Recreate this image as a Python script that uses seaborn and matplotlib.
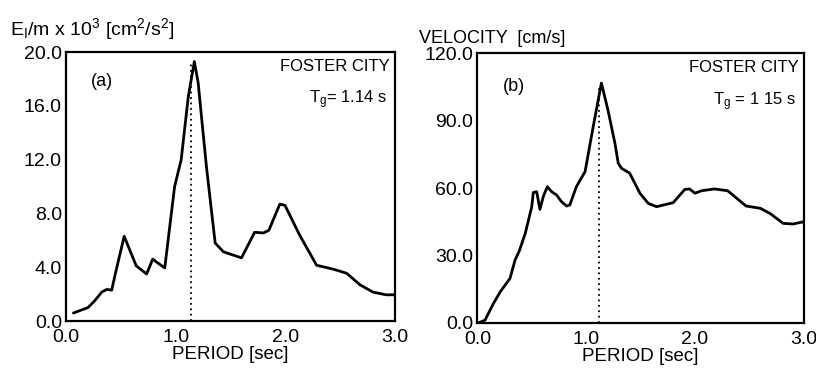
import numpy as np
import pandas as pd
import matplotlib
matplotlib.use("Agg")
import matplotlib.pyplot as plt
import seaborn as sns

# curve (a): input energy spectrum E_I/m x 10^3
periodo_a = [0.067, 0.20, 0.26, 0.325, 0.37, 0.416, 0.45, 0.53, 0.64, 0.735, 0.79, 0.84, 0.90,
             0.99, 1.05, 1.115, 1.17, 1.205, 1.28, 1.36, 1.435, 1.525, 1.60, 1.72, 1.80, 1.85,
             1.95, 1.997, 2.13, 2.285, 2.44, 2.56, 2.68, 2.80, 2.92, 3.0]
energia_a = [0.6, 1.0, 1.5, 2.15, 2.35, 2.3, 3.55, 6.3, 4.1, 3.5, 4.6, 4.3, 3.95,
             10.0, 12.0, 16.7, 19.3, 17.7, 11.5, 5.8, 5.15, 4.9, 4.7, 6.6, 6.55, 6.75,
             8.7, 8.6, 6.4, 4.15, 3.85, 3.55, 2.7, 2.15, 1.95, 1.95]

# curve (b): equivalent velocity spectrum [cm/s]
periodo_b = [0.01, 0.07, 0.147, 0.21, 0.30, 0.346, 0.386, 0.44, 0.50, 0.514, 0.545, 0.575, 0.606,
             0.643, 0.683, 0.728, 0.774, 0.82, 0.85, 0.91, 0.99, 1.065, 1.14, 1.20, 1.264, 1.295,
             1.325, 1.40, 1.494, 1.57, 1.647, 1.80, 1.907, 1.95, 2.0, 2.06, 2.18, 2.30, 2.47,
             2.60, 2.69, 2.81, 2.90, 3.0]
velocidad_b = [0.0, 1.2, 8.6, 13.8, 19.8, 27.9, 32.1, 39.8, 51.7, 58.0, 58.4, 50.5, 56.2,
               60.6, 58.4, 56.9, 53.9, 52.0, 52.5, 60.6, 67.3, 87.4, 106.7, 94.8, 80.0, 71.0,
               68.8, 66.6, 57.7, 53.2, 51.7, 53.5, 59.4, 59.6, 57.7, 58.8, 59.6, 58.8, 52.0,
               51.0, 48.7, 44.3, 44.0, 45.0]

tg_a = 1.14
pico_a = 19.3
tg_b = 1.12
pico_b = 105.0

ticks_x = [0.0, 1.0, 2.0, 3.0]
ticks_a = [0.0, 4.0, 8.0, 12.0, 16.0, 20.0]
ticks_b = [0.0, 30.0, 60.0, 90.0, 120.0]

sns.set_style("white")
plt.rcParams['font.family'] = ['Liberation Sans', 'DejaVu Sans']
plt.rcParams['mathtext.fontset'] = 'custom'
plt.rcParams['mathtext.rm'] = 'Liberation Sans'
plt.rcParams['mathtext.it'] = 'Liberation Sans'
plt.rcParams['text.color'] = 'black'
plt.rcParams['axes.labelcolor'] = 'black'

fig = plt.figure(figsize=(8.16, 3.72), dpi=100)
ax_a = fig.add_axes([0.081, 0.137, 0.403, 0.723])
ax_b = fig.add_axes([0.585, 0.132, 0.400, 0.725])


def preparar_eje(ax, yticks, ymax):
    ax.set_xlim(0, 3.0)
    ax.set_ylim(0, ymax)
    ax.set_xticks(ticks_x)
    ax.set_xticklabels([f"{t:.1f}" for t in ticks_x])
    ax.set_yticks(yticks)
    ax.set_yticklabels([f"{t:.1f}" for t in yticks])
    ax.tick_params(axis='both', labelsize=14, direction='in', length=3, width=1.2,
                   colors='black', pad=3)
    ax.tick_params(axis='x', pad=6)
    for s in ax.spines.values():
        s.set_linewidth(1.6)
        s.set_color('black')
    ax.set_xlabel("PERIOD [sec]", fontsize=13.5, labelpad=0, color='black')
    ax.set_ylabel("")


df_a = pd.DataFrame({"periodo": periodo_a, "valor": energia_a})
sns.lineplot(data=df_a, x="periodo", y="valor", ax=ax_a, color='black', linewidth=2.0)
ax_a.plot([tg_a, tg_a], [0, pico_a], color='black', linestyle=(0, (1, 2)), linewidth=1.3)
preparar_eje(ax_a, ticks_a, 20.0)
ax_a.text(0.23, 17.5, "(a)", fontsize=13)
ax_a.text(2.95, 18.6, "FOSTER CITY", fontsize=12, ha='right')
ax_a.text(2.93, 16.2, "T$_g$= 1.14 s", fontsize=12, ha='right')
fig.text(0.012, 0.905, "E$_I$/m x 10$^3$ [cm$^2$/s$^2$]", fontsize=14)

df_b = pd.DataFrame({"periodo": periodo_b, "valor": velocidad_b})
sns.lineplot(data=df_b, x="periodo", y="valor", ax=ax_b, color='black', linewidth=2.0)
ax_b.plot([tg_b, tg_b], [0, pico_b], color='black', linestyle=(0, (1, 2)), linewidth=1.3)
preparar_eje(ax_b, ticks_b, 120.0)
ax_b.text(0.23, 103, "(b)", fontsize=13)
ax_b.text(2.95, 111.5, "FOSTER CITY", fontsize=12, ha='right')
ax_b.text(2.93, 97, "T$_g$ = 1 15 s", fontsize=12, ha='right')
fig.text(0.513, 0.885, "VELOCITY  [cm/s]", fontsize=13)

fig.savefig("out.png", dpi=100)
